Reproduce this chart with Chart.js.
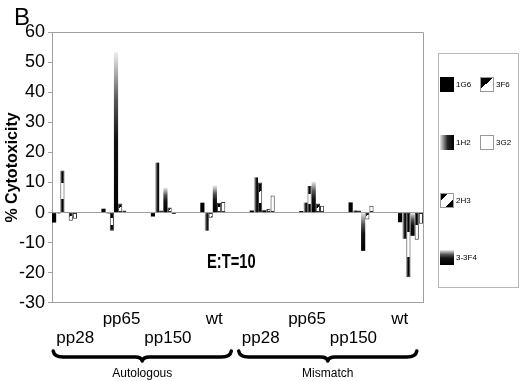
<!DOCTYPE html>
<html>
<head>
<meta charset="utf-8">
<script src="https://cdn.jsdelivr.net/npm/chart.js@4.4.1/dist/chart.umd.min.js"></script>
<style>
  html, body { margin: 0; padding: 0; background: #fff; }
</style>
</head>
<body>
<canvas id="chart" width="520" height="381"></canvas>
<script>
// tick labels on two rows, like the original (upper / lower line)
const groupLabels = [
    ['', 'pp28'], ['pp65', ''], ['', 'pp150'], ['wt', ''],
    ['', 'pp28'], ['pp65', ''], ['', 'pp150'], ['wt', '']
];
const bracketLabels = ['Autologous', 'Mismatch'];

// series in plotting order
const seriesNames = ['1G6', '1H2', '2H3', '3-3F4', '3F6', '3G2'];
const v1G6   = [-3.3,  1.3, -1.3,  3.3,  0.7,  0.5,   3.4,  -3.2];
const v1H2   = [-0.3, -0.3, 16.6, -6.0, 11.7,  3.3,   0.7,  -8.7];
const v2H3   = [14.0, -6.0,  0.7, -1.7, 10.0,  8.8,   0.7, -21.5];
const v3_3F4 = [ 0.3, 53.3,  8.3,  9.0,  1.0, 10.3, -12.7,  -7.7];
const v3F6   = [-2.7,  3.0,  1.7,  3.3,  1.3,  3.0,  -2.3,  -9.0];
const v3G2   = [-2.0,  0.7, -0.5,  3.5,  5.7,  2.3,   2.3,  -3.7];

const yMin = -30;
const yMax = 60;
const yStep = 10;

const seriesValues = [v1G6, v1H2, v2H3, v3_3F4, v3F6, v3G2];

const FONT = "'Liberation Sans', Arial, sans-serif";
const CAT_PCT = 0.506;

// fill for one series inside a rectangle
function makeFill( g, name, l, t, r, b ){
    if ( ![l, t, r, b].every( isFinite ) ) return name === '3G2' ? '#fff' : '#000';
    if ( b - t < 1 ) b = t + 1;
    if ( r - l < 1 ) r = l + 1;
    let grad;
    switch ( name ){
        case '1G6':
            return '#000';
        case '1H2':
            grad = g.createLinearGradient( l, 0, r, 0 );
            grad.addColorStop( 0, '#e6e6e6' );
            grad.addColorStop( 0.55, '#222' );
            grad.addColorStop( 1, '#000' );
            return grad;
        case '2H3':
            grad = g.createLinearGradient( l, t, r, b );
            grad.addColorStop( 0, '#000' );
            grad.addColorStop( 0.3, '#000' );
            grad.addColorStop( 0.3, '#fff' );
            grad.addColorStop( 0.68, '#fff' );
            grad.addColorStop( 0.68, '#000' );
            grad.addColorStop( 1, '#000' );
            return grad;
        case '3-3F4':
            grad = g.createLinearGradient( 0, t, 0, b );
            grad.addColorStop( 0, '#eeeeee' );
            grad.addColorStop( 0.3, '#555' );
            grad.addColorStop( 0.55, '#111' );
            grad.addColorStop( 1, '#000' );
            return grad;
        case '3F6':
            grad = g.createLinearGradient( l, t, r, b );
            grad.addColorStop( 0, '#000' );
            grad.addColorStop( 0.45, '#000' );
            grad.addColorStop( 0.45, '#fff' );
            grad.addColorStop( 1, '#fff' );
            return grad;
        default:
            return '#fff';
    }
}

function barFill( context ){
    const chart = context.chart;
    const xs = chart.scales.xb;
    const ys = chart.scales.y;
    const name = seriesNames[context.datasetIndex];
    if ( !xs || !ys || context.type !== 'data' || !context.raw ) return name === '3G2' ? '#fff' : '#000';
    const v = context.raw.y;
    const step = xs.getPixelForValue( 1 ) - xs.getPixelForValue( 0 );
    const w = step * CAT_PCT / seriesNames.length;
    const cx = xs.getPixelForValue( context.dataIndex ) + ( context.datasetIndex - ( seriesNames.length - 1 ) / 2 ) * w;
    const y0 = ys.getPixelForValue( 0 );
    const y1 = ys.getPixelForValue( v );
    return makeFill( chart.ctx, name, cx - w / 2, Math.min( y0, y1 ), cx + w / 2, Math.max( y0, y1 ) );
}

const outlined = ['2H3', '3F6', '3G2'];

const datasets = seriesNames.map( function( name, i ){
    return {
        label: name,
        xAxisID: 'xb',
        data: seriesValues[i].map( function( v, j ){ return { x: j, y: v }; } ),
        backgroundColor: barFill,
        borderColor: '#333',
        borderWidth: outlined.indexOf( name ) >= 0 ? 1 : 0,
        borderSkipped: false
    };
} );

function drawBrace( g, x0, x1, y ){
    const mid = ( x0 + x1 ) / 2;
    g.save();
    g.strokeStyle = '#000';
    g.lineWidth = 3.5;
    g.lineCap = 'round';
    g.lineJoin = 'round';
    g.beginPath();
    g.moveTo( x0, y - 6 );
    g.quadraticCurveTo( x0 + 1, y, x0 + 10, y );
    g.lineTo( mid - 7, y );
    g.quadraticCurveTo( mid - 1, y, mid, y + 4 );
    g.quadraticCurveTo( mid + 1, y, mid + 7, y );
    g.lineTo( x1 - 10, y );
    g.quadraticCurveTo( x1 - 1, y, x1, y - 6 );
    g.stroke();
    g.restore();
}

const extras = {
    id: 'extras',
    afterDraw: function( chart ){
        const g = chart.ctx;
        const a = chart.chartArea;
        const xs = chart.scales.x;

        // box round the plot
        g.save();
        g.strokeStyle = '#a0a0a0';
        g.lineWidth = 1;
        g.beginPath();
        g.moveTo( a.left, a.top + 0.5 );
        g.lineTo( a.right + 0.5, a.top + 0.5 );
        g.lineTo( a.right + 0.5, a.bottom );
        g.stroke();
        g.restore();

        g.save();
        g.fillStyle = '#000';
        g.textBaseline = 'alphabetic';
        g.textAlign = 'left';
        g.font = '24px ' + FONT;
        g.fillText( 'B', 14, 25 );

        // E:T label, condensed bold
        g.save();
        g.translate( 207, 268 );
        g.scale( 0.7, 1 );
        g.font = 'bold 21px ' + FONT;
        g.fillText( 'E:T=10', 0, 0 );
        g.restore();

        // braces under the two halves
        for ( let k = 0; k < 2; k++ ){
            const x0 = xs.getPixelForTick( k * 4 ) - 22;
            const x1 = xs.getPixelForTick( k * 4 + 3 ) + 17;
            drawBrace( g, x0, x1, 357 );
            g.font = '12px ' + FONT;
            g.textAlign = 'center';
            g.textBaseline = 'middle';
            g.fillText( bracketLabels[k], ( x0 + x1 ) / 2, 374 );
        }
        g.restore();

        // legend
        g.save();
        g.strokeStyle = '#b8b8b8';
        g.lineWidth = 1;
        g.strokeRect( 438.5, 53.5, 80, 234 );
        const slots = {
            '1G6': [440, 77], '3F6': [480, 77],
            '1H2': [440, 135], '3G2': [480, 135],
            '2H3': [440, 193],
            '3-3F4': [440, 250]
        };
        g.font = '8px ' + FONT;
        g.textAlign = 'left';
        g.textBaseline = 'middle';
        seriesNames.forEach( function( name ){
            const p = slots[name];
            const l = p[0], t = p[1], r = l + 14, b = t + 15;
            g.fillStyle = makeFill( g, name, l, t, r, b );
            g.fillRect( l, t, 14, 15 );
            if ( outlined.indexOf( name ) >= 0 ){
                g.strokeStyle = '#999';
                g.strokeRect( l + 0.5, t + 0.5, 13, 14 );
            }
            g.fillStyle = '#000';
            g.fillText( name, r + 2, t + 8 );
        } );
        g.restore();
    }
};

const chart = new Chart( document.getElementById( 'chart' ), {
    type: 'bar',
    data: {
        labels: groupLabels,
        datasets: datasets
    },
    options: {
        responsive: false,
        animation: false,
        events: [],
        layout: {
            padding: { left: 0, right: 97, top: 32, bottom: 26 }
        },
        datasets: {
            bar: {
                barPercentage: 1,
                categoryPercentage: CAT_PCT
            }
        },
        scales: {
            x: {
                type: 'category',
                position: 'bottom',
                grid: { display: false, drawTicks: false },
                border: { display: true, color: '#a0a0a0' },
                ticks: {
                    color: '#000',
                    padding: 7,
                    autoSkip: false,
                    maxRotation: 0,
                    font: { family: FONT, size: 17, lineHeight: 1.12 }
                }
            },
            xb: {
                type: 'linear',
                display: false,
                offset: false,
                min: -0.253,
                max: 7.253
            },
            y: {
                min: yMin,
                max: yMax,
                afterFit: function( scale ){ scale.width = 52; },
                grid: {
                    color: function( c ){ return c.tick && c.tick.value === 0 ? '#a0a0a0' : 'rgba(0,0,0,0)'; },
                    tickColor: '#a0a0a0',
                    tickLength: 4,
                    drawTicks: true
                },
                border: { display: true, color: '#a0a0a0' },
                ticks: {
                    stepSize: yStep,
                    color: '#000',
                    padding: 3,
                    font: { family: FONT, size: 18 }
                },
                title: {
                    display: true,
                    text: '% Cytotoxicity',
                    color: '#000',
                    padding: { top: 3, bottom: 0 },
                    font: { family: FONT, size: 16, weight: 'bold' }
                }
            }
        },
        plugins: {
            legend: { display: false },
            tooltip: { enabled: false }
        }
    },
    plugins: [extras]
} );
</script>
</body>
</html>
